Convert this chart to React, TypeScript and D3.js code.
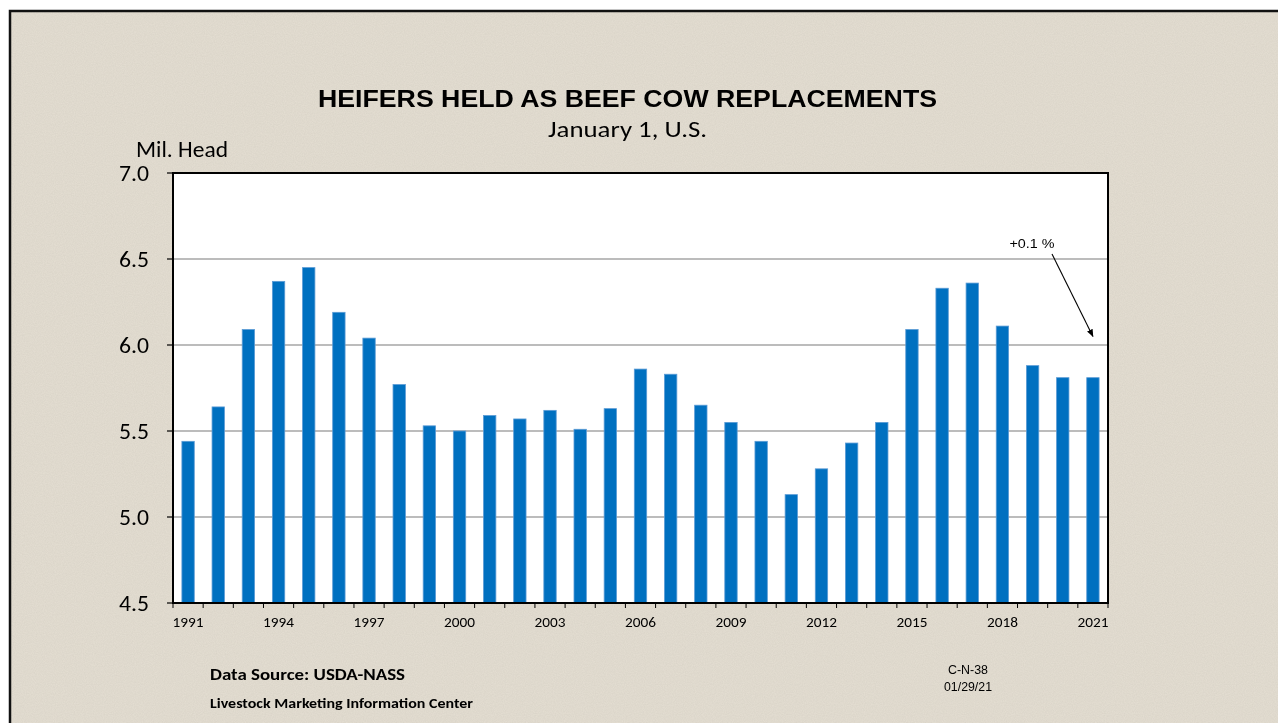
import React from "react";
import * as d3 from "d3";

const years: string[] = [
  "1991","1992","1993","1994","1995","1996","1997","1998","1999","2000",
  "2001","2002","2003","2004","2005","2006","2007","2008","2009","2010",
  "2011","2012","2013","2014","2015","2016","2017","2018","2019","2020","2021",
];
const heifers: number[] = [
  5.44, 5.64, 6.09, 6.37, 6.45, 6.19, 6.04, 5.77, 5.53, 5.50,
  5.59, 5.57, 5.62, 5.51, 5.63, 5.86, 5.83, 5.65, 5.55, 5.44,
  5.13, 5.28, 5.43, 5.55, 6.09, 6.33, 6.36, 6.11, 5.88, 5.81, 5.81,
];
const yTicks: number[] = [4.5, 5.0, 5.5, 6.0, 6.5, 7.0];
const xLabelYears: string[] = ["1991","1994","1997","2000","2003","2006","2009","2012","2015","2018","2021"];

const W = 1278, H = 723;
const plot = { left: 173, top: 173, right: 1108, bottom: 603 };

export default function App() {
  const x = d3.scaleBand<string>().domain(years).range([plot.left, plot.right]).paddingInner(0).paddingOuter(0);
  const y = d3.scaleLinear().domain([4.5, 7.0]).range([plot.bottom, plot.top]);
  const bw = x.bandwidth() * 0.41;
  const calibri = "Carlito, Lato, 'Open Sans', sans-serif";
  const arial = "'Liberation Sans', Arial, sans-serif";
  const lastIdx = years.length - 1;
  const arrowEnd = { x: (x(years[lastIdx]) as number) + x.bandwidth() / 2, y: y(6.05) };

  return (
    <svg width={W} height={H} style={{ position: "fixed", left: 0, top: 0 }}>
      <defs>
        <filter id="grain" x="0" y="0" width="100%" height="100%">
          <feTurbulence type="fractalNoise" baseFrequency="0.9" numOctaves="2" seed="3" result="n" />
          <feColorMatrix in="n" type="matrix" values="0 0 0 0 0.5  0 0 0 0 0.47  0 0 0 0 0.41  0 0 0 0.3 -0.05" result="c" />
          <feComposite in="c" in2="SourceGraphic" operator="in" />
        </filter>
        <marker id="arr" viewBox="0 0 10 10" refX="9" refY="5" markerWidth="7" markerHeight="7" orient="auto">
          <path d="M0,1 L10,5 L0,9 Z" fill="#000" />
        </marker>
      </defs>
      <rect x={0} y={0} width={W} height={H} fill="#ffffff" />
      <rect x={10} y={11} width={W} height={H} fill="#E3DDD1" />
      <rect x={10} y={11} width={W} height={H} fill="#E3DDD1" filter="url(#grain)" />
      <path d={`M10,${H} L10,11 L${W},11`} fill="none" stroke="#111" strokeWidth={2.5} />

      {/* plot background */}
      <rect x={plot.left} y={plot.top} width={plot.right - plot.left} height={plot.bottom - plot.top} fill="#ffffff" />
      {/* gridlines */}
      {yTicks.filter(t => t > 4.5 && t < 7.0).map(t => (
        <line key={t} x1={plot.left} x2={plot.right} y1={y(t)} y2={y(t)} stroke="#A6A6A6" strokeWidth={1.3} />
      ))}
      {/* bars */}
      {years.map((yr, i) => {
        const cx = (x(yr) as number) + x.bandwidth() / 2;
        return (
          <rect key={yr} x={cx - bw / 2} y={y(heifers[i])} width={bw} height={plot.bottom - y(heifers[i])}
            fill="#0070C0" stroke="#5B9BD5" strokeWidth={0.8} />
        );
      })}
      {/* plot border */}
      <rect x={plot.left} y={plot.top} width={plot.right - plot.left} height={plot.bottom - plot.top} fill="none" stroke="#000" strokeWidth={2} />

      {/* y ticks */}
      {yTicks.map(t => (
        <g key={t}>
          <line x1={plot.left - 6} x2={plot.left} y1={y(t)} y2={y(t)} stroke="#000" strokeWidth={1.2} />
          <text x={149} y={y(t)} dy="0.36em" textAnchor="end" fontFamily={calibri} fontSize={22} textLength={30} lengthAdjust="spacingAndGlyphs" fill="#000">{t.toFixed(1)}</text>
        </g>
      ))}
      {/* x ticks at band boundaries */}
      {years.map(yr => (
        <line key={"t" + yr} x1={x(yr) as number} x2={x(yr) as number} y1={plot.bottom} y2={plot.bottom + 5} stroke="#000" strokeWidth={1} />
      ))}
      <line x1={plot.right} x2={plot.right} y1={plot.bottom} y2={plot.bottom + 5} stroke="#000" strokeWidth={1} />
      {xLabelYears.map(yr => (
        <text key={"l" + yr} x={(x(yr) as number) + x.bandwidth() / 2} y={627} textAnchor="middle" fontFamily={calibri} fontSize={15} textLength={31} lengthAdjust="spacingAndGlyphs" fill="#000">{yr}</text>
      ))}

      {/* titles */}
      <text x={627.5} y={107} textAnchor="middle" fontFamily={arial} fontWeight="bold" fontSize={24} textLength={619} lengthAdjust="spacingAndGlyphs" fill="#000">HEIFERS HELD AS BEEF COW REPLACEMENTS</text>
      <text x={627.5} y={137} textAnchor="middle" fontFamily={calibri} fontSize={21.5} textLength={159} lengthAdjust="spacingAndGlyphs" fill="#000">January 1, U.S.</text>
      <text x={136} y={157} fontFamily={calibri} fontSize={21.5} textLength={92} lengthAdjust="spacingAndGlyphs" fill="#000">Mil. Head</text>

      {/* annotation */}
      <text x={1032} y={248} textAnchor="middle" fontFamily={arial} fontSize={13.5} textLength={45} lengthAdjust="spacingAndGlyphs" fill="#000">+0.1 %</text>
      <line x1={1052} y1={254} x2={arrowEnd.x} y2={arrowEnd.y} stroke="#000" strokeWidth={1.1} markerEnd="url(#arr)" />

      {/* footer */}
      <text x={210} y={680} fontFamily={calibri} fontWeight="bold" fontSize={16} textLength={195} lengthAdjust="spacingAndGlyphs" fill="#000">Data Source:  USDA-NASS</text>
      <text x={210} y={708} fontFamily={calibri} fontWeight="bold" fontSize={14} textLength={263} lengthAdjust="spacingAndGlyphs" fill="#000">Livestock Marketing Information Center</text>
      <text x={968} y={674} textAnchor="middle" fontFamily={arial} fontSize={12.5} textLength={40} lengthAdjust="spacingAndGlyphs" fill="#000">C-N-38</text>
      <text x={968} y={691} textAnchor="middle" fontFamily={arial} fontSize={12.5} textLength={48} lengthAdjust="spacingAndGlyphs" fill="#000">01/29/21</text>
    </svg>
  );
}
